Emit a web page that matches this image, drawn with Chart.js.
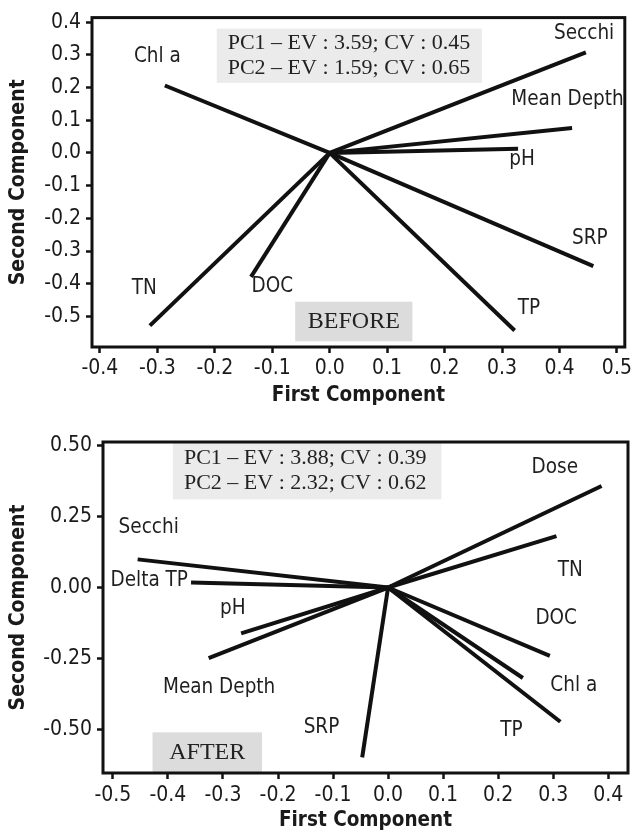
<!DOCTYPE html>
<html><head><meta charset="utf-8">
<script src="https://cdn.jsdelivr.net/npm/chart.js@4.4.1/dist/chart.umd.min.js"></script>
<style>
html,body{margin:0;padding:0;background:#fff;}
#wrap{position:relative;width:635px;height:833px;overflow:hidden;}
.box{position:absolute;left:0;width:635px;}
</style></head><body>
<div id="wrap">
<div class="box" style="top:0;height:415px"><canvas id="c1"></canvas></div>
<div class="box" style="top:415px;height:418px"><canvas id="c2"></canvas></div>
</div>
<script>
// ---------- BEFORE ----------
const beforeVars = ['Chl a','TN','DOC','Secchi','Mean Depth','pH','SRP','TP'];
const beforePC1  = [-0.287,-0.313,-0.137,0.446,0.422,0.328,0.459,0.322];
const beforePC2  = [0.206,-0.528,-0.379,0.307,0.076,0.013,-0.346,-0.543];
const beforeStats = ['PC1 \u2013 EV : 3.59; CV : 0.45','PC2 \u2013 EV : 1.59; CV : 0.65'];
const beforeXTicks = [-0.4,-0.3,-0.2,-0.1,0,0.1,0.2,0.3,0.4,0.5];
const beforeXLabels = ['-0.4','-0.3','-0.2','-0.1','0.0','0.1','0.2','0.3','0.4','0.5'];
const beforeYTicks = [0.4,0.3,0.2,0.1,0,-0.1,-0.2,-0.3,-0.4,-0.5];
const beforeYLabels = ['0.4','0.3','0.2','0.1','0.0','-0.1','-0.2','-0.3','-0.4','-0.5'];

// ---------- AFTER ----------
const afterVars = ['Secchi','Delta TP','pH','Mean Depth','SRP','Dose','TN','DOC','Chl a','TP'];
const afterPC1  = [-0.455,-0.358,-0.267,-0.326,-0.047,0.388,0.306,0.294,0.245,0.313];
const afterPC2  = [0.099,0.018,-0.161,-0.248,-0.597,0.357,0.181,-0.240,-0.318,-0.472];
const afterStats = ['PC1 \u2013 EV : 3.88; CV : 0.39','PC2 \u2013 EV : 2.32; CV : 0.62'];
const afterXTicks = [-0.5,-0.4,-0.3,-0.2,-0.1,0,0.1,0.2,0.3,0.4];
const afterXLabels = ['-0.5','-0.4','-0.3','-0.2','-0.1','0.0','0.1','0.2','0.3','0.4'];
const afterYTicks = [0.5,0.25,0,-0.25,-0.5];
const afterYLabels = ['0.50','0.25','0.00','-0.25','-0.50'];

// label placement (data units), kept separate from the data
const beforeLabelPos = [[-0.300,0.295],[-0.323,-0.416],[-0.100,-0.410],[0.443,0.363],[0.414,0.162],[0.335,-0.022],[0.453,-0.263],[0.347,-0.477]];
const afterLabelPos  = [[-0.435,0.2105],[-0.434,0.0256],[-0.282,-0.0737],[-0.307,-0.351],[-0.121,-0.491],[0.303,0.421],[0.331,0.058],[0.3055,-0.109],[0.3375,-0.345],[0.224,-0.503]];

const SANS = "'DejaVu Sans Condensed','DejaVu Sans',sans-serif";
Chart.defaults.font.family = SANS;
Chart.defaults.color = '#1a1a1a';

const decor = {
  id: 'decor',
  beforeDatasetsDraw(chart, args, o) {
    const {ctx, scales:{x, y}} = chart;
    ctx.save();
    for (const b of o.boxes) {
      const x1 = x.getPixelForValue(b.x0), x2 = x.getPixelForValue(b.x1);
      const y1 = y.getPixelForValue(b.y0), y2 = y.getPixelForValue(b.y1);
      ctx.fillStyle = b.fill;
      ctx.fillRect(x1, y1, x2 - x1, y2 - y1);
      ctx.fillStyle = '#222';
      ctx.font = b.font;
      ctx.textBaseline = 'middle';
      const n = b.text.length, cy = (y1 + y2) / 2;
      b.text.forEach((t, i) => {
        const ty = cy + (i - (n - 1) / 2) * b.lh;
        if (b.align === 'left') { ctx.textAlign = 'left'; ctx.fillText(t, x1 + b.pad, ty); }
        else { ctx.textAlign = 'center'; ctx.fillText(t, (x1 + x2) / 2, ty); }
      });
    }
    ctx.restore();
  },
  afterDatasetsDraw(chart, args, o) {
    const {ctx, scales:{x, y}} = chart;
    ctx.save();
    ctx.font = '20.5px ' + SANS;
    ctx.fillStyle = '#1f1f1f';
    ctx.textAlign = 'center';
    ctx.textBaseline = 'middle';
    o.names.forEach((n, i) => {
      ctx.fillText(n, x.getPixelForValue(o.pos[i][0]), y.getPixelForValue(o.pos[i][1]));
    });
    const a = chart.chartArea;
    ctx.strokeStyle = '#111';
    ctx.lineWidth = 3;
    ctx.lineJoin = 'miter';
    ctx.strokeRect(a.left, a.top, a.right - a.left, a.bottom - a.top);
    ctx.restore();
  }
};

function makeChart(id, names, pc1, pc2, lpos, cfg) {
  const datasets = names.map((n, i) => ({
    label: n,
    data: [{x: 0, y: 0}, {x: pc1[i], y: pc2[i]}],
    showLine: true, borderColor: '#111', borderWidth: 4, pointRadius: 0,
    borderCapStyle: 'butt', fill: false
  }));
  return new Chart(document.getElementById(id), {
    type: 'scatter',
    data: {datasets},
    options: {
      responsive: true, maintainAspectRatio: false, animation: false, events: [],
      layout: {padding: {top: cfg.padTop, right: 7, left: 0, bottom: 0}},
      plugins: {legend: {display: false}, tooltip: {enabled: false},
        decor: {names, pos: lpos, boxes: cfg.boxes}},
      scales: {
        x: {type: 'linear', min: cfg.xmin, max: cfg.xmax,
          afterBuildTicks: s => { s.ticks = cfg.xTicks.map(v => ({value: v})); },
          afterFit: s => { s.height = cfg.xH; },
          ticks: {autoSkip: false, maxRotation: 0, padding: cfg.xTickPad, font: {size: 21}, color: '#1a1a1a',
            callback: (v, i) => cfg.xLabels[i]},
          grid: {drawOnChartArea: false, tickLength: 6, tickWidth: 2.5, tickColor: '#111'},
          border: {display: false},
          title: {display: true, text: 'First Component', color: '#1a1a1a',
            font: {size: 20.5, weight: 'bold'}, padding: {top: 0, bottom: cfg.xTitlePad}}
        },
        y: {type: 'linear', min: cfg.ymin, max: cfg.ymax,
          afterBuildTicks: s => { s.ticks = cfg.yTicks.map(v => ({value: v})); },
          afterFit: s => { s.width = cfg.yW; },
          ticks: {autoSkip: false, padding: 5, font: {size: 21}, color: '#1a1a1a',
            callback: (v, i) => cfg.yLabels[i]},
          grid: {drawOnChartArea: false, tickLength: 6, tickWidth: 2.5, tickColor: '#111'},
          border: {display: false},
          title: {display: true, text: 'Second Component', color: '#1a1a1a',
            font: {size: 21, weight: 'bold'}, padding: {top: 6, bottom: 0}}
        }
      }
    },
    plugins: [decor]
  });
}

makeChart('c1', beforeVars, beforePC1, beforePC2, beforeLabelPos, {
  padTop: 13, xmin: -0.4138, xmax: 0.5138, ymin: -0.5935, ymax: 0.4136,
  xTicks: beforeXTicks, xLabels: beforeXLabels, yTicks: beforeYTicks, yLabels: beforeYLabels,
  xH: 68, yW: 92, xTickPad: 3, xTitlePad: 7,
  boxes: [
    {x0: -0.1967, x1: 0.265, y0: 0.380, y1: 0.214, fill: '#ebebeb', text: beforeStats,
     font: "22px 'Liberation Serif','Times New Roman',serif", lh: 25, align: 'left', pad: 11},
    {x0: -0.060, x1: 0.144, y0: -0.455, y1: -0.576, fill: '#dcdcdc', text: ['BEFORE'],
     font: "24px 'Liberation Serif','Times New Roman',serif", lh: 25, align: 'center'}
  ]
});

makeChart('c2', afterVars, afterPC1, afterPC2, afterLabelPos, {
  padTop: 27, xmin: -0.518, xmax: 0.436, ymin: -0.652, ymax: 0.5116,
  xTicks: afterXTicks, xLabels: afterXLabels, yTicks: afterYTicks, yLabels: afterYLabels,
  xH: 60, yW: 103, xTickPad: 4, xTitlePad: 0,
  boxes: [
    {x0: -0.391, x1: 0.097, y0: 0.509, y1: 0.310, fill: '#ebebeb', text: afterStats,
     font: "22px 'Liberation Serif','Times New Roman',serif", lh: 25, align: 'left', pad: 11},
    {x0: -0.428, x1: -0.229, y0: -0.509, y1: -0.652, fill: '#dcdcdc', text: ['AFTER'],
     font: "24px 'Liberation Serif','Times New Roman',serif", lh: 25, align: 'center'}
  ]
});
</script>
</body></html>
